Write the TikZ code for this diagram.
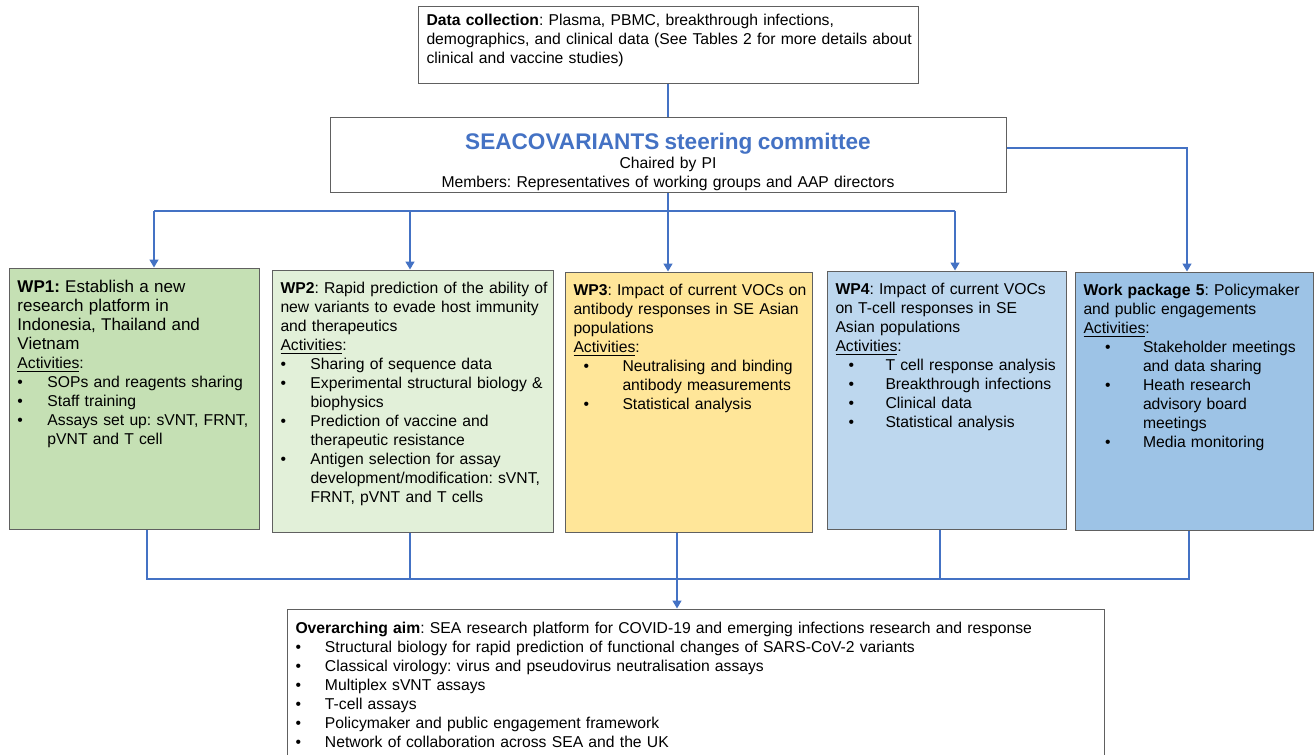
\documentclass[tikz,border=0pt]{standalone}
\usepackage{fontspec}
\setmainfont{Liberation Sans}
\usetikzlibrary{fit,arrows.meta}
\definecolor{linkblue}{HTML}{4472C4}
\definecolor{boxgray}{HTML}{606060}
\definecolor{wpgreen}{HTML}{C5E0B4}
\definecolor{wplightgreen}{HTML}{E2F0D9}
\definecolor{wpyellow}{HTML}{FFE699}
\definecolor{wplightblue}{HTML}{BDD7EE}
\definecolor{wpblue}{HTML}{9DC3E6}
\newcommand\bitem[2][0pt]{\par\hangindent=#2\hangafter=1\noindent\hspace*{#1}\makebox[\dimexpr#2-#1\relax][l]{\textbullet}}
\newcommand\acts{\underline{Activities}:}
\tikzset{
  wpbox/.style={draw=boxgray, line width=0.5pt, inner sep=0pt},
  wptext/.style={anchor=north west, inner xsep=4.3pt, inner ysep=6pt, align=left,
    font=\fontsize{7.85}{9.5}\selectfont\frenchspacing},
  link/.style={draw=linkblue, line width=0.75pt},
  arr/.style={link, -{Triangle[width=4.5pt,length=4pt]}}
}

\begin{document}
\begin{tikzpicture}[x=0.5pt,y=-0.5pt]
  \useasboundingbox (0,0) rectangle (1315,754);
  \node[wpbox, fit={(418,7) (918,84)}] (data) {};
  \node[wptext, inner ysep=3.8pt, text width=245pt] (datat) at (data.north west)
    {\textbf{Data collection}: Plasma, PBMC, breakthrough infections,\\
     demographics, and clinical data (See Tables 2 for more details about\\
     clinical and vaccine studies)\par};
  \node[wpbox, fit={(330,118) (1006,193)}] (steer) {};
  \node[wptext, anchor=north, inner ysep=7.75pt, text width=330pt, align=center] (steert) at (steer.north)
    {{\fontsize{11.3}{13}\selectfont\bfseries\color{linkblue}SEACOVARIANTS steering committee\par}
     Chaired by PI\par
     Members: Representatives of working groups and AAP directors\par};
  \node[wpbox, fill=wpgreen, fit={(9,268) (259,529)}] (wp1) {};
  \node[wptext, text width=120pt] (wp1t) at (wp1.north west)
    {{\fontsize{8.5}{9.5}\selectfont\textbf{WP1:} Establish a new\\ research platform in\\
      Indonesia, Thailand and\\ Vietnam\par}
     \acts
     \bitem{15pt}SOPs and reagents sharing
     \bitem{15pt}Staff training
     \bitem{15pt}Assays set up: sVNT, FRNT,\newline pVNT and T cell\par};
  \node[wpbox, fill=wplightgreen, fit={(272,270) (553,532)}] (wp2) {};
  \node[wptext, text width=136pt] (wp2t) at (wp2.north west)
    {\textbf{WP2}: Rapid prediction of the ability of\\ new variants to evade host immunity\\
     and therapeutics\\ \acts
     \bitem{15pt}Sharing of sequence data
     \bitem{15pt}Experimental structural biology \&\newline biophysics
     \bitem{15pt}Prediction of vaccine and\newline therapeutic resistance
     \bitem{15pt}Antigen selection for assay\newline development/modification: sVNT,\newline FRNT, pVNT and T cells\par};
  \node[wpbox, fill=wpyellow, fit={(565,272) (812,532)}] (wp3) {};
  \node[wptext, text width=120pt] (wp3t) at (wp3.north west)
    {\textbf{WP3}: Impact of current VOCs on\\ antibody responses in SE Asian\\
     populations\\ \acts
     \bitem[5pt]{24.5pt}Neutralising and binding\newline antibody measurements
     \bitem[5pt]{24.5pt}Statistical analysis\par};
  \node[wpbox, fill=wplightblue, fit={(827,271) (1066,529)}] (wp4) {};
  \node[wptext, text width=116pt] (wp4t) at (wp4.north west)
    {\textbf{WP4}: Impact of current VOCs\\ on T-cell responses in SE\\
     Asian populations\\ \acts
     \bitem[6.5pt]{25pt}T cell response analysis
     \bitem[6.5pt]{25pt}Breakthrough infections
     \bitem[6.5pt]{25pt}Clinical data
     \bitem[6.5pt]{25pt}Statistical analysis\par};
  \node[wpbox, fill=wpblue, fit={(1075,272) (1313,530)}] (wp5) {};
  \node[wptext, text width=116pt] (wp5t) at (wp5.north west)
    {\textbf{Work package 5}: Policymaker\\ and public engagements\\ \acts
     \bitem[10.75pt]{29.75pt}Stakeholder meetings\newline and data sharing
     \bitem[10.75pt]{29.75pt}Heath research\newline advisory board\newline meetings
     \bitem[10.75pt]{29.75pt}Media monitoring\par};
  \node[wpbox, fit={(287,609) (1104,770)}] (over) {};
  \node[wptext, inner ysep=6.5pt, text width=400pt] (overt) at (over.north west)
    {\textbf{Overarching aim}: SEA research platform for COVID-19 and emerging infections research and response
     \bitem{14.75pt}Structural biology for rapid prediction of functional changes of SARS-CoV-2 variants
     \bitem{14.75pt}Classical virology: virus and pseudovirus neutralisation assays
     \bitem{14.75pt}Multiplex sVNT assays
     \bitem{14.75pt}T-cell assays
     \bitem{14.75pt}Policymaker and public engagement framework
     \bitem{14.75pt}Network of collaboration across SEA and the UK\par};
  \coordinate (t1) at (154,211);
  \coordinate (t2) at (410,211);
  \coordinate (t4) at (955,211);
  \coordinate (t5) at (1187,148);
  \coordinate (b1) at (147,579);
  \coordinate (b2) at (410,579);
  \coordinate (b3) at (677,579);
  \coordinate (b4) at (940,579);
  \coordinate (b5) at (1189,579);
  \draw[link] (data) -- (steer);
  \draw[link] (steer) -- (steer |- t1);
  \draw[link] (t1) -- (t4);
  \draw[arr] (t1) -- (t1 |- wp1.north);
  \draw[arr] (t2) -- (t2 |- wp2.north);
  \draw[arr] (steer) -- (steer |- wp3.north);
  \draw[arr] (t4) -- (t4 |- wp4.north);
  \draw[arr] (steer.east |- t5) -- (t5) -- (t5 |- wp5.north);
  \draw[link] (b1 |- wp1.south) -- (b1) -- (b5) -- (b5 |- wp5.south);
  \draw[link] (b2 |- wp2.south) -- (b2);
  \draw[link] (b4 |- wp4.south) -- (b4);
  \draw[arr] (b3 |- wp3.south) -- (b3 |- over.north);
\end{tikzpicture}
\end{document}
